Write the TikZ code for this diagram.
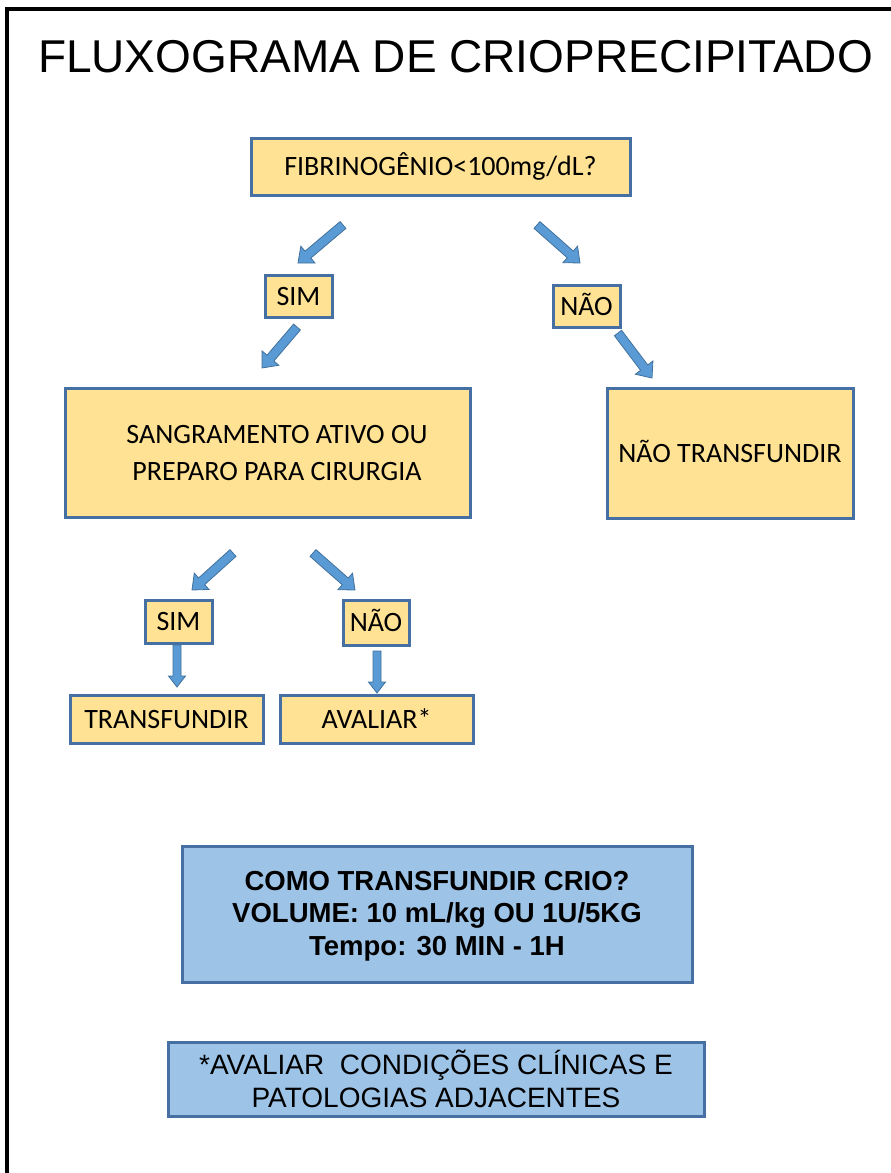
\documentclass[tikz,border=0pt]{standalone}
\usepackage{fontspec}
\setmainfont{Liberation Sans}
\newfontfamily\calibrifont{Carlito}
\usetikzlibrary{calc}

\definecolor{boxgold}{HTML}{FFE294}
\definecolor{edgeblue}{HTML}{4670A4}
\definecolor{paleblue}{HTML}{9DC3E6}
\definecolor{arrowblue}{HTML}{5B9BD5}
\definecolor{arrowedge}{HTML}{41719C}

\tikzset{
  ybox/.style={draw=edgeblue, line width=3pt, fill=boxgold, inner sep=0pt,
    font=\calibrifont\fontsize{28}{37}\selectfont, text height=18pt, text depth=0pt},
  ytext/.style={font=\calibrifont\fontsize{28}{37}\selectfont, align=center, inner sep=0pt},
  bluebox/.style={draw=edgeblue, line width=3pt, fill=paleblue, inner sep=0pt},
  blockarrow/.style={fill=arrowblue, draw=arrowedge, line width=0.8pt, line join=miter},
}

% block arrow: start, tip, shaft half width, head half width, head length
\newcommand\fatarrow[5]{%
  \coordinate (fa-h) at ($(#2)!#5!(#1)$);
  \draw[blockarrow] ($(#1)!#3!90:(#2)$) -- ($(fa-h)!#3!-90:(#1)$)
    -- ($(fa-h)!#4!-90:(#1)$) -- (#2) -- ($(fa-h)!#4!90:(#1)$)
    -- ($(fa-h)!#3!90:(#1)$) -- ($(#1)!#3!-90:(#2)$) -- cycle;
}

\begin{document}
\begin{tikzpicture}[x=1pt,y=-1pt]
\useasboundingbox[fill=white] (0,0) rectangle (891,1173);

% outer frame
\draw[line width=4pt] (7,1180) -- (7,9) -- (900,9);

% title
\node[font=\fontsize{46}{50}\selectfont, anchor=base, inner sep=0pt] (title) at (455.5,72)
  {FLUXOGRAMA DE CRIOPRECIPITADO};

% decision boxes
\node[ybox, minimum width=379pt, minimum height=57pt] (fib) at (440.5,166.5) {FIBRINOGÊNIO<100mg/dL?};
\node[ybox, minimum width=67pt, minimum height=42pt] (sim1) at (298.5,296) {SIM};
\node[ybox, minimum width=67pt, minimum height=42pt] (nao1) at (586.5,306) {NÃO};
\node[ybox, minimum width=405pt, minimum height=129pt] (sang) at (267.5,452.5) {};
\node[ytext] (sangtxt) at (277,453) {SANGRAMENTO ATIVO OU\\PREPARO PARA CIRURGIA};
\node[ybox, minimum width=246pt, minimum height=130pt] (naot) at (730,453) {NÃO TRANSFUNDIR};
\node[ybox, minimum width=67pt, minimum height=43pt] (sim2) at (178.5,621.5) {SIM};
\node[ybox, minimum width=66pt, minimum height=45pt] (nao2) at (376,622.5) {NÃO};
\node[ybox, minimum width=193pt, minimum height=48pt] (transf) at (166.5,719) {TRANSFUNDIR};
\node[ybox, minimum width=193pt, minimum height=48pt] (aval) at (376.5,719) {AVALIAR*};

% information boxes
\node[bluebox, minimum width=510pt, minimum height=136pt] (como) at (437,914) {};
\node[font=\bfseries\fontsize{27.5}{32.5}\selectfont, align=center, inner sep=0pt] (comotxt) at (437,916)
  {COMO TRANSFUNDIR CRIO?\\VOLUME: 10 mL/kg OU 1U/5KG\\Tempo: 30 MIN - 1H};
\node[bluebox, minimum width=536pt, minimum height=74pt] (nota) at (436,1079) {};
\node[font=\fontsize{28}{33}\selectfont, align=center, inner sep=0pt] (notatxt) at (436,1079)
  {*AVALIAR\ \ CONDIÇÕES CLÍNICAS E\\PATOLOGIAS ADJACENTES};

% arrow end points
\coordinate (a1s) at (343,225);  \coordinate (a1e) at (298,263);
\coordinate (a2s) at (537,225);  \coordinate (a2e) at (580,263);
\coordinate (a3s) at (297,327);  \coordinate (a3e) at (262,368);
\coordinate (a4s) at (618,333);  \coordinate (a4e) at (652,378);
\coordinate (a5s) at (233,553);  \coordinate (a5e) at (192,590);
\coordinate (a6s) at (313,553);  \coordinate (a6e) at (355,590);
\coordinate (a7s) at (177,645);  \coordinate (a7e) at (177,687);
\coordinate (a8s) at (377,651);  \coordinate (a8e) at (377,693);

\fatarrow{a1s}{a1e}{4.5pt}{11pt}{13pt}
\fatarrow{a2s}{a2e}{4.5pt}{11pt}{13pt}
\fatarrow{a3s}{a3e}{4.5pt}{11pt}{13pt}
\fatarrow{a4s}{a4e}{4.5pt}{11pt}{13pt}
\fatarrow{a5s}{a5e}{4.5pt}{11pt}{13pt}
\fatarrow{a6s}{a6e}{4.5pt}{11pt}{13pt}
\fatarrow{a7s}{a7e}{4pt}{8.5pt}{11pt}
\fatarrow{a8s}{a8e}{4pt}{8.5pt}{11pt}
\end{tikzpicture}
\end{document}
